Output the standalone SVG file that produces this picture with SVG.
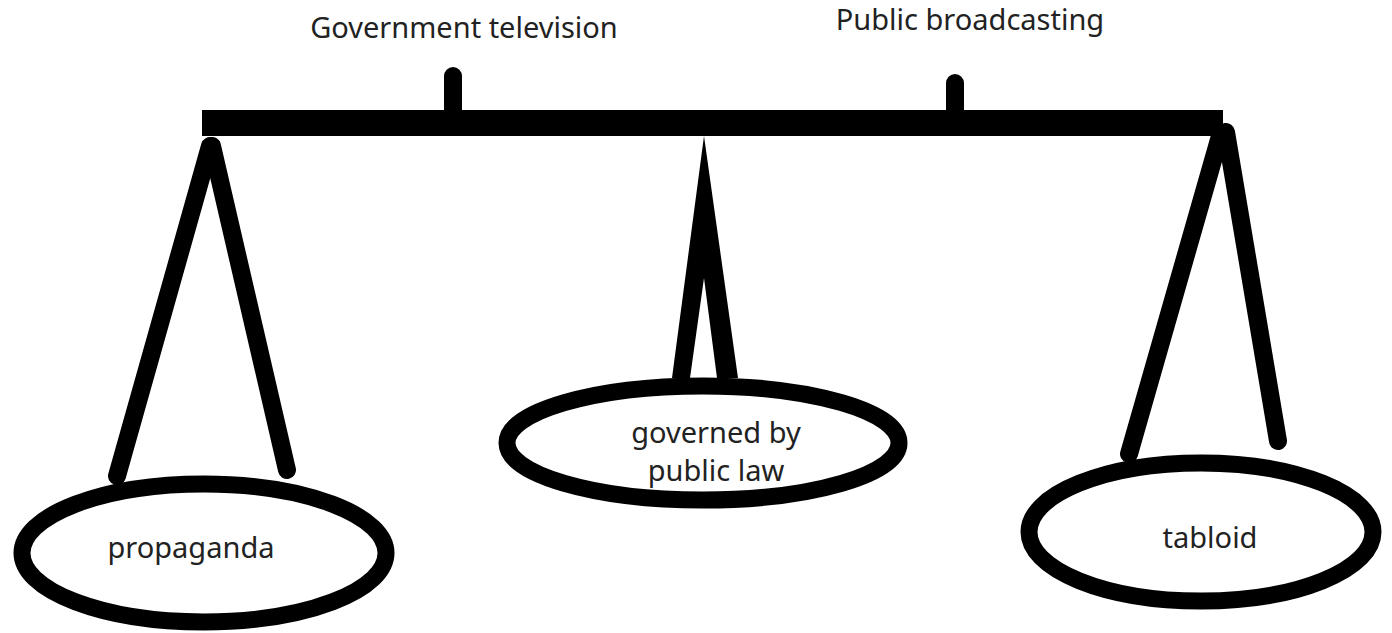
<svg xmlns="http://www.w3.org/2000/svg" width="1392" height="633" viewBox="0 0 1392 633">
<style>
.t{font-family:"Noto Sans","Open Sans",sans-serif;font-size:29px;fill:#222;text-anchor:middle}
.l{stroke:#000;stroke-width:18;stroke-linecap:round;fill:none}
.e{stroke:#000;stroke-width:17;fill:#fff}
</style>
<rect width="1392" height="633" fill="#fff"/>
<g id="connectors">
<line class="l" x1="210" y1="146" x2="117" y2="476"/>
<line class="l" x1="212" y1="146" x2="287" y2="470"/>
<polygon points="704,136 738,378 717,378 704,278 690,378 672,378" fill="#000"/>
<line class="l" x1="1220" y1="136" x2="1129" y2="454"/>
<line class="l" x1="1226" y1="132" x2="1278" y2="441"/>
</g>
<g id="beam">
<rect x="202" y="110" width="1021" height="26" fill="#000"/>
<line class="l" x1="453" y1="76" x2="453" y2="112"/>
<line class="l" x1="955" y1="83" x2="955" y2="112"/>
</g>
<g id="label-government">
<text class="t" x="464" y="38">Government television</text>
</g>
<g id="label-public">
<text class="t" x="970" y="30">Public broadcasting</text>
</g>
<g id="node-propaganda">
<ellipse class="e" cx="204" cy="553" rx="182" ry="69"/>
<text class="t" x="191" y="558">propaganda</text>
</g>
<g id="node-public-law">
<ellipse class="e" cx="703" cy="443" rx="196" ry="57"/>
<text class="t" x="716" y="443">governed by</text>
<text class="t" x="716" y="481">public law</text>
</g>
<g id="node-tabloid">
<ellipse class="e" cx="1201" cy="532" rx="172" ry="69"/>
<text class="t" x="1210" y="548">tabloid</text>
</g>
</svg>
